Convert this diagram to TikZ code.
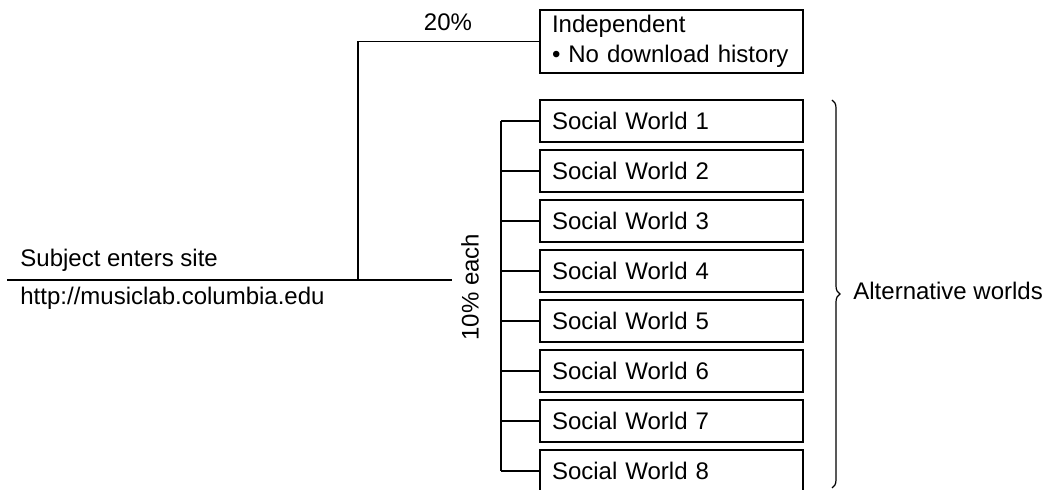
\documentclass[tikz,border=0pt]{standalone}
\usepackage{fontspec}
\setmainfont{Liberation Sans}
\usetikzlibrary{decorations.pathreplacing}
\begin{document}
\begin{tikzpicture}[x=0.5pt,y=-0.5pt,
  wline/.style={line width=0.9pt,black},
  worldbox/.style={draw,line width=0.9pt,minimum width=131.5pt,minimum height=21pt,
    text width=119.5pt,inner xsep=6pt,inner ysep=0pt,align=left,font=\fontsize{12}{15}\selectfont},
  lbl/.style={font=\fontsize{12}{15}\selectfont,inner sep=0pt}]
\useasboundingbox (0,0) rectangle (1050,490);
% boxes
\node[worldbox,minimum height=31.5pt] (ind) at (671.5,41.5) {Independent\\\textbullet\ No download history};
\foreach \i in {1,...,8}{
  \node[worldbox] (w\i) at (671.5,{121+50*(\i-1)}) {Social World \i};
  \coordinate (t\i) at (501,{121+50*(\i-1)});
}
% main line
\coordinate (start) at (7,280);
\coordinate (end) at (452,280);
\coordinate (j) at (358,280);
\draw[wline] (start) -- (end);
\draw[wline] (j) |- (ind.west);
% bracket
\draw[wline] (t1) -- (t8);
\foreach \i in {1,...,8}{\draw[wline] (t\i) -- (w\i.west);}
% labels
\node[lbl,anchor=base west] (subj) at (20,267) {Subject enters site};
\node[lbl,anchor=base west] (url) at (20,305) {http://musiclab.columbia.edu};
\node[lbl] (p20) at (448,22) {20\%};
\node[lbl,rotate=90] (p10) at (470,287) {10\% each};
% brace
\coordinate (b1) at (832,100);
\coordinate (b2) at (832,488);
\draw[line width=0.6pt,decorate,decoration={brace,amplitude=4pt}] (b1) -- (b2);
\node[lbl,anchor=west] (alt) at (853,291) {Alternative worlds};
\end{tikzpicture}
\end{document}
